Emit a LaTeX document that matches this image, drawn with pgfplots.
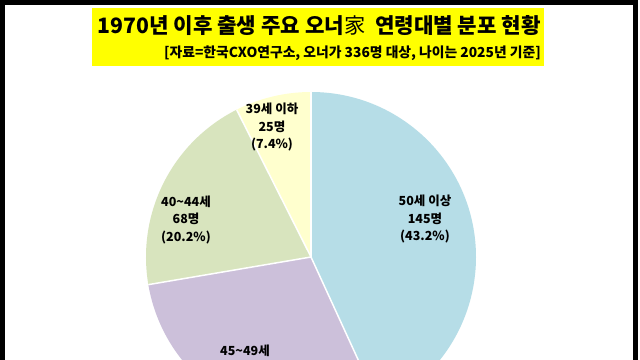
\documentclass[border=0pt]{standalone}
\usepackage{pgfplots}
\pgfplotsset{compat=1.18}
\usepackage{fontspec}
\setmainfont{Noto Sans CJK KR}
\definecolor{cblue}{RGB}{182,221,231}
\definecolor{cpurple}{RGB}{204,192,218}
\definecolor{cgreen}{RGB}{216,228,190}
\definecolor{cyellow}{RGB}{255,255,206}
\definecolor{tyellow}{RGB}{255,255,0}
\begin{document}
\begin{tikzpicture}
\path[use as bounding box] (0,0) rectangle (640bp,360bp);
\fill[white] (0,0) rectangle (640bp,360bp);
\begin{scope}
\clip (0,0) rectangle (640bp,360bp);
\begin{axis}[at={(0,0)}, anchor=south west, width=640bp, height=360bp,
  scale only axis, hide axis, xmin=0, xmax=640, ymin=0, ymax=360, clip=false]
% pie: 145, 98, 68, 25 of 336, clockwise from top
\fill[cblue] (axis cs:311,103) -- ++(90:165bp) arc[start angle=90, end angle={90-145/336*360}, radius=165bp] -- cycle;
\fill[cpurple] (axis cs:311,103) -- ++({90-145/336*360}:165bp) arc[start angle={90-145/336*360}, end angle={90-243/336*360}, radius=165bp] -- cycle;
\fill[cgreen] (axis cs:311,103) -- ++({90-243/336*360}:165bp) arc[start angle={90-243/336*360}, end angle={90-311/336*360}, radius=165bp] -- cycle;
\fill[cyellow] (axis cs:311,103) -- ++({90-311/336*360}:165bp) arc[start angle={90-311/336*360}, end angle={90-336/336*360}, radius=165bp] -- cycle;
\draw[white, line width=1.5bp] (axis cs:311,103) -- ++(90:165bp);
\draw[white, line width=1.5bp] (axis cs:311,103) -- ++({90-145/336*360}:165bp);
\draw[white, line width=1.5bp] (axis cs:311,103) -- ++({90-243/336*360}:165bp);
\draw[white, line width=1.5bp] (axis cs:311,103) -- ++({90-311/336*360}:165bp);
% labels
\node[align=center, font=\bfseries\fontsize{12.5bp}{17.5bp}\selectfont] at (axis cs:425,141) {50세 이상\\145명\\(43.2\%)};
\node[align=center, inner sep=0pt, font=\bfseries\fontsize{12.5bp}{17.5bp}\selectfont] at (axis cs:245,9) {45\textasciitilde49세};
\node[align=center, font=\bfseries\fontsize{12.5bp}{17.5bp}\selectfont] at (axis cs:186,140) {40\textasciitilde44세\\68명\\(20.2\%)};
\node[align=center, font=\bfseries\fontsize{12.5bp}{17.5bp}\selectfont] at (axis cs:272,233) {39세 이하\\25명\\(7.4\%)};
% title
\fill[tyellow] (axis cs:92,294) rectangle (axis cs:544,352);
\node[anchor=east, inner sep=0pt, font=\bfseries\fontsize{21.2bp}{24bp}\selectfont] at (axis cs:541,334) {1970년 이후 출생 주요 오너{\mdseries 家}\ \ 연령대별 분포 현황};
\node[anchor=east, inner sep=0pt, font=\bfseries\fontsize{13.8bp}{15bp}\selectfont] at (axis cs:541,307) {[자료=한국CXO연구소, 오너가 336명 대상, 나이는 2025년 기준]};
% frame
\draw[black, line width=5bp] (axis cs:2.5,-20) -- (axis cs:2.5,357.5) -- (axis cs:635,357.5) -- (axis cs:635,-20);
\end{axis}
\end{scope}
\end{tikzpicture}
\end{document}
